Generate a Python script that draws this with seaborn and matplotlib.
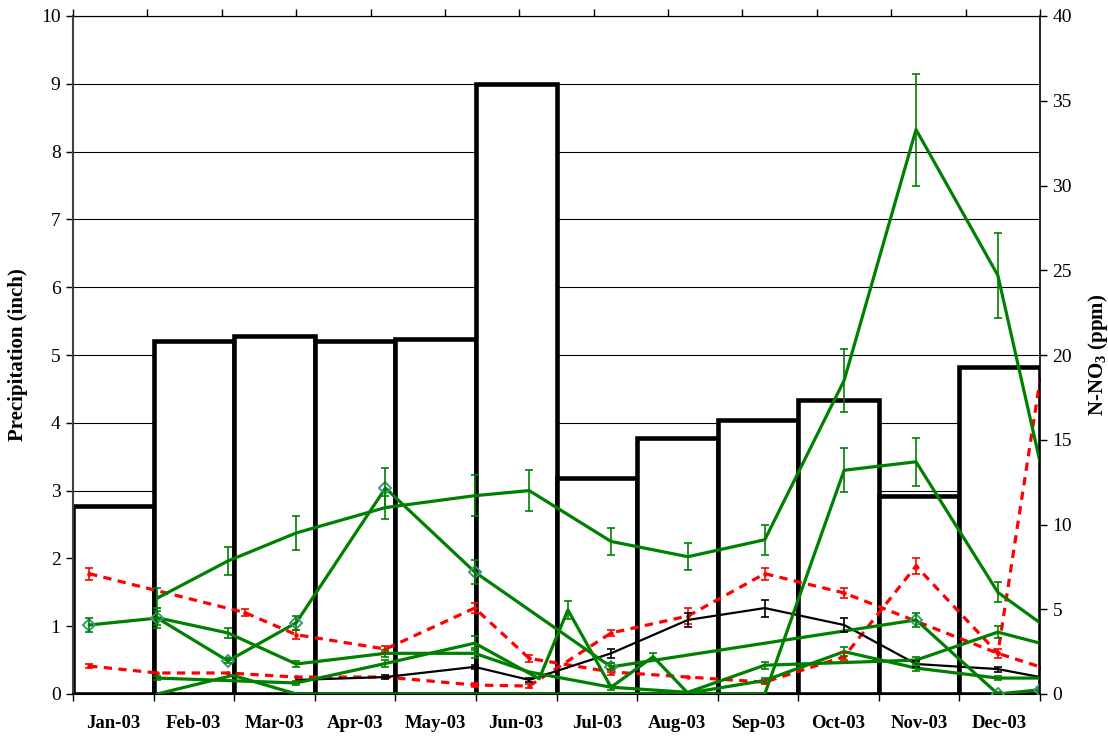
import numpy as np
import matplotlib
matplotlib.use("Agg")
import matplotlib.pyplot as plt
import seaborn as sns

# Monthly precipitation (inch)
months = ["Jan-03", "Feb-03", "Mar-03", "Apr-03", "May-03", "Jun-03",
          "Jul-03", "Aug-03", "Sep-03", "Oct-03", "Nov-03", "Dec-03"]
precip = [2.78, 5.20, 5.28, 5.20, 5.23, 9.00, 3.18, 3.78, 4.04, 4.33, 2.92, 4.83]

# N-NO3 readings (ppm): sampling day (days after 1 Jan 2003), mean, error
nan = np.nan
g1_day = [34, 62.5, 90, 126, 162, 184, 217, 248, 279, 311, 340, 373, 390]
g1_ppm = [5.66, 7.85, 9.5, 11.0, 11.7, 12.0, 9.0, 8.1, 9.1, 18.5, 33.3, 24.7, 13.7]
g1_err = [0.6, 0.8, 1.0, 0.7, 1.2, 1.2, 0.8, 0.8, 0.9, 1.85, 3.3, 2.5, nan]

g2_day = [6.5, 34, 62.5, 90, 126, 162, 217, 340, 373, 390]
g2_ppm = [4.07, 4.48, 1.95, 4.2, 12.15, 7.2, 1.6, 4.37, 0.0, 0.25]
g2_err = [0.4, 0.4, 0.15, 0.4, 1.2, 0.7, 0.2, 0.4, 0.1, nan]

g3_day = [34, 62.5, 90, 126, 162, 184, 217, 248, 279, 340, 373, 390]
g3_ppm = [4.5, 3.6, 1.77, 2.4, 2.4, 1.3, 0.4, 0.1, 1.7, 2.0, 3.65, 3.0]
g3_err = [0.6, 0.3, 0.15, 0.2, 0.3, nan, 0.15, nan, 0.2, 0.2, 0.35, nan]

g4_day = [34, 90, 126, 162, 188, 199.6, 217, 234, 248, 279, 311, 340, 373, 390]
g4_ppm = [0.94, 0.65, 1.8, 3.0, 0.9, 4.96, 0.4, 2.2, 0.05, 0.8, 2.5, 1.53, 0.94, 0.94]
g4_err = [0.1, 0.1, 0.2, 0.4, nan, 0.55, nan, 0.2, nan, 0.15, 0.25, 0.2, 0.1, nan]

g5_day = [34, 64.5, 90, 279, 311, 340, 373, 390]
g5_ppm = [0.0, 1.1, 0.0, 0.0, 13.2, 13.7, 6.0, 4.2]
g5_err = [nan, nan, nan, nan, 1.3, 1.4, 0.6, nan]

k_day = [90, 126, 162, 184, 217, 248, 279, 311, 340, 373, 390]
k_ppm = [0.83, 1.0, 1.6, 0.83, 2.4, 4.37, 5.07, 4.07, 1.77, 1.47, 1.0]
k_err = [nan, 0.1, 0.12, 0.1, 0.25, 0.4, 0.5, 0.4, 0.2, 0.15, nan]

r1_day = [6.5, 69.4, 90, 126, 162, 184, 217, 248, 279, 311, 340, 373, 390]
r1_ppm = [7.1, 4.8, 3.5, 2.65, 5.07, 2.1, 1.3, 1.0, 0.7, 2.2, 7.55, 2.4, 18.5]
r1_err = [0.35, 0.2, 0.25, 0.2, 0.3, 0.2, 0.15, nan, 0.1, 0.2, 0.45, 0.25, nan]

r2_day = [6.5, 34, 62.5, 90, 126, 162, 184, 217, 248, 279, 311, 373, 390]
r2_ppm = [1.65, 1.24, 1.24, 1.0, 1.0, 0.53, 0.47, 3.6, 4.6, 7.1, 5.96, 2.4, 1.6]
r2_err = [0.1, nan, nan, nan, nan, 0.1, 0.1, 0.2, 0.45, 0.35, 0.3, nan, nan]

GREEN = "#008000"
RED = "#ff0000"
BLACK = "#000000"

sns.set_style("white")
plt.rcParams["font.family"] = ["Liberation Serif", "DejaVu Serif"]
plt.rcParams["mathtext.fontset"] = "custom"
plt.rcParams["mathtext.rm"] = "Liberation Serif:bold"
plt.rcParams["mathtext.bf"] = "Liberation Serif:bold"
plt.rcParams["text.color"] = "black"
plt.rcParams["axes.labelcolor"] = "black"
plt.rcParams["xtick.color"] = "black"
plt.rcParams["ytick.color"] = "black"

fig = plt.figure(figsize=(11.08, 7.36), dpi=100)
rect = [73 / 1108, 42 / 736, 967 / 1108, 678 / 736]

# ---- precipitation bars (primary axes) ----
ax = fig.add_axes(rect)
sns.barplot(x=months, y=precip, ax=ax, color="white", edgecolor="black",
            linewidth=3.3, width=1.0, saturation=1)
ax.set_xlim(-0.5, 11.5)
ax.set_ylim(0, 10)
ax.set_yticks(range(0, 11))
ax.yaxis.grid(True, color="black", linewidth=0.8)
ax.xaxis.grid(False)
ax.set_axisbelow(True)
ax.set_xticks(range(12))
ax.set_xticklabels(months, fontsize=13.5, fontweight="bold")
ax.set_xticks(np.arange(-0.5, 12, 1.0), minor=True)
ax.tick_params(axis="x", which="major", length=0, pad=15)
ax.tick_params(axis="x", which="minor", length=5, width=1, direction="out",
               color="black", bottom=True)
ax.tick_params(axis="y", length=5, width=1, direction="out", color="black",
               labelsize=14, left=True, pad=4)
ax.set_xlabel("")
ax.set_ylabel("Precipitation (inch)", fontsize=15, fontweight="bold", labelpad=9)
for side in ("left", "bottom", "top"):
    ax.spines[side].set_visible(True)
    ax.spines[side].set_color("black")
ax.spines["left"].set_color("#404040")
ax.spines["left"].set_linewidth(1.5)
ax.spines["bottom"].set_linewidth(1.5)
ax.spines["top"].set_linewidth(0.8)
ax.spines["right"].set_visible(False)

# ---- N-NO3 series (secondary axes, date scale) ----
ax2 = fig.add_axes(rect)
ax2.patch.set_alpha(0)


def series(day, ppm, err, color, lw, ls="-", **mk):
    sns.lineplot(x=day, y=ppm, ax=ax2, color=color, linewidth=lw, linestyle=ls,
                 estimator=None, sort=False, **mk)
    d = np.asarray(day, float)
    v = np.asarray(ppm, float)
    e = np.asarray(err, float)
    ok = ~np.isnan(e)
    ax2.errorbar(d[ok], v[ok], yerr=e[ok], fmt="none", ecolor=color,
                 elinewidth=1.2, capsize=3.2, capthick=1.2, zorder=3)


dash = (0, (2.6, 2.0))
series(r1_day, r1_ppm, r1_err, RED, 2.3, dash, marker="o", ms=2.5,
       mec=RED, mfc=RED)
series(r2_day, r2_ppm, r2_err, RED, 2.3, dash, marker="o", ms=2.5,
       mec=RED, mfc=RED)
series(k_day, k_ppm, k_err, BLACK, 1.6)
series(g5_day, g5_ppm, g5_err, GREEN, 2.3)
series(g4_day, g4_ppm, g4_err, GREEN, 2.3)
series(g3_day, g3_ppm, g3_err, GREEN, 2.3)
series(g2_day, g2_ppm, g2_err, GREEN, 2.3, marker="D", ms=6.5,
       mfc="none", mec="#339977", mew=1.4)
series(g1_day, g1_ppm, g1_err, GREEN, 2.3)

ax2.set_xlim(0, 390)
ax2.set_ylim(0, 40)
ax2.set_xticks(np.arange(0, 391, 30))
ax2.set_xticklabels([])
ax2.xaxis.tick_top()
ax2.tick_params(axis="x", length=5, width=1, direction="out", color="black", top=True)
ax2.yaxis.tick_right()
ax2.yaxis.set_label_position("right")
ax2.set_yticks(range(0, 41, 5))
ax2.tick_params(axis="y", length=5, width=1, direction="out", color="black",
                labelsize=14, right=True, pad=4)
ax2.set_xlabel("")
ax2.set_ylabel(r"N-NO$_{3}$ (ppm)", fontsize=15, fontweight="bold", labelpad=10)
for side in ("left", "bottom"):
    ax2.spines[side].set_visible(False)
ax2.spines["right"].set_visible(True)
ax2.spines["right"].set_color("black")
ax2.spines["right"].set_linewidth(1.2)
ax2.spines["top"].set_visible(True)
ax2.spines["top"].set_color("black")
ax2.spines["top"].set_linewidth(0.8)
ax2.grid(False)

fig.savefig("out.png", dpi=100)
